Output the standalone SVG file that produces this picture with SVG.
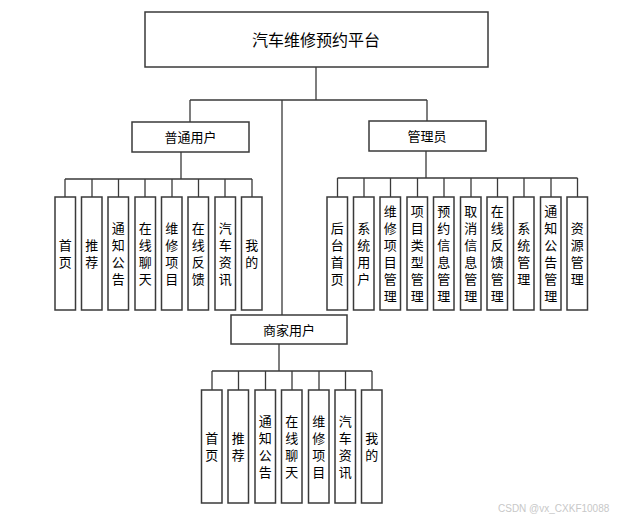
<svg xmlns="http://www.w3.org/2000/svg" width="623" height="520" viewBox="0 0 623 520">
<style>
.box{fill:#fff;stroke:#3a3a3a;stroke-width:1.5}
.ln{fill:none;stroke:#3a3a3a;stroke-width:1.3}
text{font-family:"Noto Sans CJK SC","Noto Sans",sans-serif;fill:#000;text-anchor:middle}
.t{font-size:16px;dominant-baseline:central}
.m{font-size:13px;dominant-baseline:central}
.v{font-size:13px;writing-mode:vertical-rl;letter-spacing:4px}
.wm{font-size:10px;fill:#c8c8c8;font-family:"Liberation Sans",sans-serif;text-anchor:start;dominant-baseline:central}
</style>
<rect width="623" height="520" fill="#fff"/>
<g id="connectors" class="ln">
<path d="M316,67V100M190,100H427M190,100V122M427,100V121M282,100V315"/>
<path d="M181,152V179M65,179H252M65,179V197M92,179V197M118.5,179V197M145,179V197M172,179V197M198.5,179V197M225,179V197M252,179V197"/>
<path d="M426,151V178M337.5,178H577.5M337.5,178V197M364,178V197M390.5,178V197M417.5,178V197M444,178V197M471,178V197M497.5,178V197M524,178V197M551,178V197M577.5,178V197"/>
<path d="M279,344V371M212,371H372M212,371V390M238.5,371V390M265.5,371V390M292,371V390M319,371V390M345.5,371V390M372,371V390"/>
</g>
<g id="root"><rect class="box" x="145" y="12" width="343" height="55"/><text class="t" x="316" y="39">汽车维修预约平台</text></g>
<g id="user"><rect class="box" x="132" y="122" width="117" height="30"/><text class="m" x="190.5" y="136">普通用户</text></g>
<g id="admin"><rect class="box" x="369" y="121" width="117" height="30"/><text class="m" x="427" y="135">管理员</text></g>
<g id="merchant"><rect class="box" x="231" y="315" width="116" height="29"/><text class="m" x="289" y="329">商家用户</text></g>

<g id="u1"><rect class="box" x="55" y="197" width="20.5" height="113"/><text class="v" x="65.25" y="255.5">首页</text></g>
<g id="u2"><rect class="box" x="81.5" y="197" width="20.5" height="113"/><text class="v" x="91.75" y="255.5">推荐</text></g>
<g id="u3"><rect class="box" x="108" y="197" width="20.5" height="113"/><text class="v" x="118.25" y="255.5">通知公告</text></g>
<g id="u4"><rect class="box" x="135" y="197" width="20.5" height="113"/><text class="v" x="145.25" y="255.5">在线聊天</text></g>
<g id="u5"><rect class="box" x="161.5" y="197" width="20.5" height="113"/><text class="v" x="171.75" y="255.5">维修项目</text></g>
<g id="u6"><rect class="box" x="188" y="197" width="20.5" height="113"/><text class="v" x="198.25" y="255.5">在线反馈</text></g>
<g id="u7"><rect class="box" x="215" y="197" width="20.5" height="113"/><text class="v" x="225.25" y="255.5">汽车资讯</text></g>
<g id="u8"><rect class="box" x="241.5" y="197" width="20.5" height="113"/><text class="v" x="251.75" y="255.5">我的</text></g>

<g id="a1"><rect class="box" x="327" y="197" width="20.5" height="113"/><text class="v" x="337.25" y="255.5">后台首页</text></g>
<g id="a2"><rect class="box" x="353.5" y="197" width="20.5" height="113"/><text class="v" x="363.75" y="255.5">系统用户</text></g>
<g id="a3"><rect class="box" x="380" y="197" width="20.5" height="113"/><text class="v" x="390.25" y="255.5">维修项目管理</text></g>
<g id="a4"><rect class="box" x="407" y="197" width="20.5" height="113"/><text class="v" x="417.25" y="255.5">项目类型管理</text></g>
<g id="a5"><rect class="box" x="433.5" y="197" width="20.5" height="113"/><text class="v" x="443.75" y="255.5">预约信息管理</text></g>
<g id="a6"><rect class="box" x="460.5" y="197" width="20.5" height="113"/><text class="v" x="470.75" y="255.5">取消信息管理</text></g>
<g id="a7"><rect class="box" x="487" y="197" width="20.5" height="113"/><text class="v" x="497.25" y="255.5">在线反馈管理</text></g>
<g id="a8"><rect class="box" x="513.5" y="197" width="20.5" height="113"/><text class="v" x="523.75" y="255.5">系统管理</text></g>
<g id="a9"><rect class="box" x="540.5" y="197" width="20.5" height="113"/><text class="v" x="550.75" y="255.5">通知公告管理</text></g>
<g id="a10"><rect class="box" x="567" y="197" width="20.5" height="113"/><text class="v" x="577.25" y="255.5">资源管理</text></g>

<g id="m1"><rect class="box" x="201.5" y="390" width="20.5" height="113"/><text class="v" x="211.75" y="448.5">首页</text></g>
<g id="m2"><rect class="box" x="228" y="390" width="20.5" height="113"/><text class="v" x="238.25" y="448.5">推荐</text></g>
<g id="m3"><rect class="box" x="255" y="390" width="20.5" height="113"/><text class="v" x="265.25" y="448.5">通知公告</text></g>
<g id="m4"><rect class="box" x="281.5" y="390" width="20.5" height="113"/><text class="v" x="291.75" y="448.5">在线聊天</text></g>
<g id="m5"><rect class="box" x="308.5" y="390" width="20.5" height="113"/><text class="v" x="318.75" y="448.5">维修项目</text></g>
<g id="m6"><rect class="box" x="335" y="390" width="20.5" height="113"/><text class="v" x="345.25" y="448.5">汽车资讯</text></g>
<g id="m7"><rect class="box" x="361.5" y="390" width="20.5" height="113"/><text class="v" x="371.75" y="448.5">我的</text></g>

<text class="wm" x="498" y="508">CSDN @vx_CXKF10088</text>
</svg>
